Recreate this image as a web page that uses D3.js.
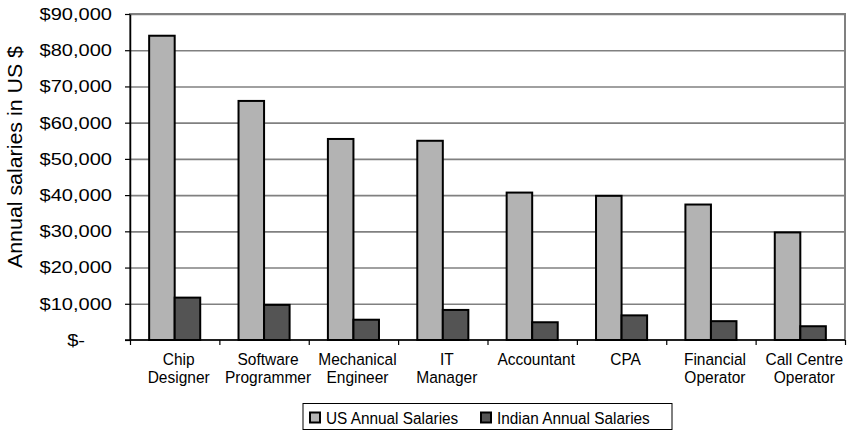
<!DOCTYPE html>
<html>
<head>
<meta charset="utf-8">
<script src="https://cdn.jsdelivr.net/npm/d3@7"></script>
<style>
  html, body { margin: 0; padding: 0; background: #fff; }
  svg { display: block; }
  text { font-family: "Liberation Sans", Arial, Helvetica, sans-serif; fill: #000; }
</style>
</head>
<body>
<svg id="chart" width="856" height="432"></svg>
<script>
// Job categories (two-line axis labels)
const categories = [
  ["Chip", "Designer"],
  ["Software", "Programmer"],
  ["Mechanical", "Engineer"],
  ["IT", "Manager"],
  ["Accountant"],
  ["CPA"],
  ["Financial", "Operator"],
  ["Call Centre", "Operator"]
];
const seriesNames = ["US Annual Salaries", "Indian Annual Salaries"];
const usSalaries = [84000, 66000, 55500, 55000, 40700, 39800, 37400, 29700];
const indianSalaries = [11700, 9700, 5600, 8300, 4900, 6800, 5200, 3800];
const yTicks = [0, 10000, 20000, 30000, 40000, 50000, 60000, 70000, 80000, 90000];
const yTitle = "Annual salaries in US $";

const seriesFill = ["#b3b3b3", "#545454"];

const svg = d3.select("#chart");
const plotL = 130, plotR = 845, plotT = 14, plotB = 340;

const keys = categories.map(c => c.join(" "));
const x = d3.scaleBand().domain(keys).range([plotL, plotR]).paddingInner(0).paddingOuter(0);
const xSub = d3.scaleBand().domain(seriesNames).range([0, x.bandwidth()])
  .paddingInner(0).paddingOuter(0.75);
const y = d3.scaleLinear().domain([0, 90000]).range([plotB, plotT]);

// plot-area frame (grey)
svg.append("rect")
  .attr("x", plotL).attr("y", plotT)
  .attr("width", plotR - plotL).attr("height", plotB - plotT)
  .attr("fill", "none").attr("stroke", "#808080").attr("stroke-width", 2);

// horizontal gridlines
const grid = svg.append("g").attr("transform", `translate(${plotL},0)`)
  .call(d3.axisLeft(y).tickValues(yTicks.filter(v => v > 0)).tickSize(-(plotR - plotL)).tickFormat(""));
grid.select(".domain").remove();
grid.selectAll("line").attr("stroke", "#808080").attr("stroke-width", 1.6);

// bars
const data = keys.map((k, i) => ({ key: k, values: [usSalaries[i], indianSalaries[i]] }));
const groups = svg.append("g").selectAll("g").data(data).join("g")
  .attr("transform", d => `translate(${x(d.key)},0)`);
groups.selectAll("rect")
  .data(d => d.values.map((v, j) => ({ name: seriesNames[j], value: v, j })))
  .join("rect")
  .attr("x", d => xSub(d.name))
  .attr("width", xSub.bandwidth())
  .attr("y", d => y(d.value))
  .attr("height", d => y(0) - y(d.value))
  .attr("fill", d => seriesFill[d.j])
  .attr("stroke", "#000")
  .attr("stroke-width", 2);

// y axis
const fmt = v => v === 0 ? "$-" : "$" + d3.format(",")(v);
const yAxis = svg.append("g").attr("transform", `translate(${plotL},0)`)
  .call(d3.axisLeft(y).tickValues(yTicks).tickSize(5).tickSizeOuter(0).tickFormat(fmt));
yAxis.select(".domain").attr("stroke", "#000").attr("stroke-width", 1.5);
yAxis.selectAll(".tick line").attr("stroke", "#000").attr("stroke-width", 1.2);
yAxis.selectAll(".tick text")
  .attr("x", 0)
  .attr("font-size", 17)
  .attr("text-anchor", "end")
  .attr("transform", d => `translate(${d === 0 ? -45 : -18},0) scale(1.18,1)`);

// x axis: tick marks at category boundaries
const xb = d3.scaleLinear().domain([0, keys.length]).range([plotL, plotR]);
const xAxis = svg.append("g").attr("transform", `translate(0,${plotB})`)
  .call(d3.axisBottom(xb).tickValues(d3.range(0, keys.length + 1)).tickSize(5).tickSizeOuter(0).tickFormat(""));
xAxis.select(".domain").attr("stroke", "#000").attr("stroke-width", 1.5)
  .attr("d", `M${plotL - 5},0H${plotR}`);
xAxis.selectAll(".tick line").attr("stroke", "#000").attr("stroke-width", 1.2);

// category labels
const labels = svg.append("g").selectAll("text").data(categories).join("text")
  .attr("transform", (d, i) => `translate(${x(keys[i]) + x.bandwidth() / 2 + 4},365) scale(0.94,1)`)
  .attr("text-anchor", "middle")
  .attr("font-size", 16.5);
labels.selectAll("tspan").data(d => d).join("tspan")
  .attr("x", 0)
  .attr("dy", (d, i) => i === 0 ? 0 : 18.3)
  .text(d => d);

// y axis title
svg.append("text")
  .attr("transform", "translate(22,157) rotate(-90)")
  .attr("text-anchor", "middle")
  .attr("font-size", 20)
  .attr("textLength", 222)
  .attr("lengthAdjust", "spacingAndGlyphs")
  .text(yTitle);

// legend
const legend = svg.append("g");
legend.append("rect")
  .attr("x", 303).attr("y", 403.5).attr("width", 369).attr("height", 26)
  .attr("fill", "#fff").attr("stroke", "#000").attr("stroke-width", 1);
const legendX = [310, 481];
const items = legend.selectAll("g.item").data(seriesNames).join("g")
  .attr("class", "item")
  .attr("transform", (d, i) => `translate(${legendX[i]},412.5)`);
items.append("rect")
  .attr("width", 10).attr("height", 10)
  .attr("fill", (d, i) => seriesFill[i])
  .attr("stroke", "#000").attr("stroke-width", 2);
items.append("text")
  .attr("transform", "translate(16,11) scale(0.96,1)")
  .attr("font-size", 16)
  .text(d => d);
</script>
</body>
</html>
